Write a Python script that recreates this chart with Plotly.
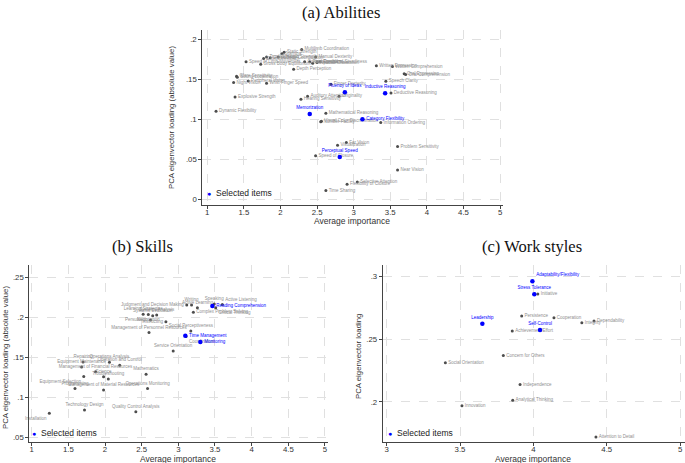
import plotly.graph_objects as go

# ---- data (x = average importance, y = |PCA loading|) ----
ability_names = [
    "Multilimb Coordination", "Static Strength", "Stamina", "Trunk Strength", "Dynamic Strength",
    "Extent Flexibility", "Gross Body Coordination", "Speed of Limb Movement", "Gross Body Equilibrium",
    "Manual Dexterity", "Control Precision", "Rate Control", "Reaction Time", "Response Orientation",
    "Arm-Hand Steadiness", "Depth Perception", "Written Expression", "Written Comprehension",
    "Oral Expression", "Oral Comprehension", "Glare Sensitivity", "Sound Localization", "Night Vision",
    "Peripheral Vision", "Wrist-Finger Speed", "Speech Clarity", "Finger Dexterity", "Fluency of Ideas",
    "Inductive Reasoning", "Deductive Reasoning", "Originality", "Auditory Attention",
    "Hearing Sensitivity", "Explosive Strength", "Dynamic Flexibility", "Memorization",
    "Mathematical Reasoning", "Number Facility", "Visual Color Discrimination", "Category Flexibility",
    "Information Ordering", "Far Vision", "Visualization", "Problem Sensitivity", "Perceptual Speed",
    "Speed of Closure", "Near Vision", "Selective Attention", "Flexibility of Closure", "Time Sharing",
]
ability_x = [
    2.29, 2.05, 2.02, 1.81, 1.97, 1.77, 1.86, 1.53, 1.73, 2.48, 2.33, 2.40, 2.50, 2.44, 2.54, 2.18,
    3.31, 3.53, 3.69, 3.71, 1.40, 1.41, 1.36, 1.56, 1.81, 3.44, 2.69, 2.88, 3.43, 3.51, 2.80, 2.37,
    2.28, 1.38, 1.12, 2.40, 2.62, 2.55, 2.56, 3.12, 3.37, 2.90, 2.78, 3.60, 2.81, 2.48, 3.60, 3.05,
    2.91, 2.62,
]
ability_y = [
    0.1875, 0.184, 0.182, 0.178, 0.178, 0.176, 0.177, 0.172, 0.169, 0.178, 0.172, 0.172, 0.171,
    0.170, 0.172, 0.1625, 0.167, 0.166, 0.157, 0.156, 0.154, 0.1525, 0.146, 0.148, 0.145, 0.1475,
    0.144, 0.134, 0.1325, 0.133, 0.129, 0.129, 0.125, 0.128, 0.110, 0.1066, 0.1075, 0.097, 0.0975,
    0.100, 0.096, 0.071, 0.0675, 0.066, 0.053, 0.0545, 0.0366, 0.0216, 0.019, 0.011,
]
ability_selected = ["Fluency of Ideas", "Inductive Reasoning", "Memorization",
                    "Category Flexibility", "Perceptual Speed"]

skill_names = [
    "Judgment and Decision Making", "Writing", "Active Learning", "Speaking", "Active Listening",
    "Reading Comprehension", "Critical Thinking", "Complex Problem Solving", "Learning Strategies",
    "Negotiation", "Systems Evaluation", "Systems Analysis", "Persuasion", "Instructing",
    "Management of Personnel Resources", "Social Perceptiveness", "Time Management", "Coordination",
    "Monitoring", "Service Orientation", "Operations Analysis", "Operation and Control", "Repairing",
    "Equipment Maintenance", "Management of Financial Resources", "Science", "Troubleshooting",
    "Equipment Selection", "Mathematics", "Programming", "Management of Material Resources",
    "Operations Monitoring", "Technology Design", "Quality Control Analysis", "Installation",
]
skill_x = [
    3.115, 3.18, 3.26, 3.49, 3.60, 3.464, 3.51, 3.205, 2.52, 2.59, 2.65, 2.705, 2.62, 2.83, 2.60,
    3.17, 3.095, 3.105, 3.30, 2.93, 2.06, 2.20, 1.70, 1.68, 1.87, 1.98, 2.045, 1.71, 2.56, 1.59,
    1.98, 2.58, 1.72, 2.42, 1.24,
]
skill_y = [
    0.2153, 0.2153, 0.212, 0.2166, 0.216, 0.2141, 0.212, 0.2063, 0.204, 0.2035, 0.202, 0.203,
    0.1966, 0.1945, 0.181, 0.183, 0.177, 0.176, 0.169, 0.158, 0.1438, 0.140, 0.1441, 0.1379,
    0.132, 0.1258, 0.1229, 0.126, 0.1288, 0.111, 0.1091, 0.111, 0.0841, 0.082, 0.080,
]
skill_selected = ["Reading Comprehension", "Time Management", "Monitoring"]

style_names = [
    "Adaptability/Flexibility", "Stress Tolerance", "Initiative", "Persistence", "Cooperation",
    "Leadership", "Integrity", "Dependability", "Self-Control", "Achievement/Effort",
    "Concern for Others", "Social Orientation", "Independence", "Analytical Thinking", "Innovation",
    "Attention to Detail",
]
style_x = [3.993, 4.006, 4.03, 3.92, 4.14, 3.652, 4.33, 4.413, 4.045, 3.856, 3.795, 3.40, 3.909,
           3.859, 3.513, 4.426]
style_y = [0.2963, 0.286, 0.2862, 0.2687, 0.2673, 0.2625, 0.2633, 0.2647, 0.2575, 0.2567, 0.237,
           0.2314, 0.2139, 0.2014, 0.1969, 0.172]
style_selected = ["Adaptability/Flexibility", "Stress Tolerance", "Leadership", "Self-Control"]

x_ticks = [1, 1.5, 2, 2.5, 3, 3.5, 4, 4.5, 5]

# label placement (default: right of the marker)
label_pos = {
    "Fluency of Ideas": "top center", "Inductive Reasoning": "top center",
    "Memorization": "top center", "Perceptual Speed": "top center",
    "Judgment and Decision Making": "middle left", "Writing": "top center",
    "Active Learning": "top center", "Speaking": "top center", "Active Listening": "top right",
    "Critical Thinking": "bottom right", "Learning Strategies": "top center",
    "Negotiation": "bottom center", "Systems Evaluation": "top center",
    "Systems Analysis": "top center", "Persuasion": "middle left", "Instructing": "middle left",
    "Management of Personnel Resources": "top center", "Social Perceptiveness": "top center",
    "Coordination": "bottom right", "Service Orientation": "top center",
    "Operations Analysis": "top center", "Operation and Control": "top center",
    "Repairing": "top center", "Equipment Maintenance": "top center",
    "Management of Financial Resources": "top center", "Science": "top center",
    "Troubleshooting": "top center", "Equipment Selection": "bottom left",
    "Mathematics": "top center", "Programming": "top center",
    "Management of Material Resources": "top center", "Operations Monitoring": "top center",
    "Technology Design": "top center", "Quality Control Analysis": "top center",
    "Installation": "bottom left",
    "Adaptability/Flexibility": "top right", "Stress Tolerance": "top center",
    "Leadership": "top center", "Self-Control": "top center",
}

FONT = "Liberation Sans, Arial, sans-serif"
GREY_DOT = "#4d4d4d"
GREY_TXT = "#8f8f8f"
BLUE = "#0000ff"
W, H = 685, 463

fig = go.Figure()


def add_panel(names, xs, ys, selected, xa, ya):
    """Add the grey and the highlighted scatter traces of one panel."""
    for is_sel in (False, True):
        idx = [i for i, n in enumerate(names) if (n in selected) == is_sel]
        fig.add_trace(go.Scatter(
            x=[xs[i] for i in idx], y=[ys[i] for i in idx],
            text=[names[i] for i in idx],
            textposition=[label_pos.get(names[i], "middle right") for i in idx],
            mode="markers+text",
            marker={"size": 4.5 if is_sel else 3, "color": BLUE if is_sel else GREY_DOT},
            textfont={"size": 4.5, "color": BLUE if is_sel else GREY_TXT, "family": FONT},
            cliponaxis=False, xaxis=xa, yaxis=ya, showlegend=False, hoverinfo="text"
        ))


add_panel(ability_names, ability_x, ability_y, ability_selected, "x", "y")
add_panel(skill_names, skill_x, skill_y, skill_selected, "x2", "y2")
add_panel(style_names, style_x, style_y, style_selected, "x3", "y3")

axis_common = dict(
    showline=True, linecolor="#444", linewidth=1, ticks="outside", ticklen=3, tickcolor="#444",
    showgrid=True, gridcolor="#e0e0e0", griddash="dash", gridwidth=0.8, zeroline=False,
    automargin=False, tickfont={"size": 7.8, "color": "#333", "family": FONT},
)


def x_axis(domain, rng, anchor):
    return dict(axis_common, domain=domain, range=rng, anchor=anchor, tickvals=x_ticks,
                ticktext=[f"{t:g}" for t in x_ticks], ticklabelstandoff=-3)


def y_axis(domain, rng, anchor, vals, labels):
    return dict(axis_common, domain=domain, range=rng, anchor=anchor, tickvals=vals, ticktext=labels)


fig.update_layout(
    width=W, height=H, margin={"l": 0, "r": 0, "t": 0, "b": 0},
    paper_bgcolor="white", plot_bgcolor="white", showlegend=False,
    font={"family": FONT},
    xaxis=x_axis([0.2953, 0.7343], [0.932, 5.04], "y"),
    yaxis=y_axis([0.5572, 0.935], [-0.0071, 0.2116], "x", [0, 0.05, 0.1, 0.15, 0.2],
                 ["0", ".05", ".1", ".15", ".2"]),
    xaxis2=x_axis([0.0428, 0.4793], [0.967, 5.046], "y2"),
    yaxis2=y_axis([0.046, 0.4276], [0.0445, 0.2654], "x2", [0.05, 0.1, 0.15, 0.2, 0.25],
                  [".05", ".1", ".15", ".2", ".25"]),
    xaxis3=x_axis([0.5587, 1.0], [2.973, 5.033], "y3"),
    yaxis3=y_axis([0.046, 0.4276], [0.1683, 0.3093], "x3", [0.2, 0.25, 0.3],
                  [".2", ".25", ".3"]),
)


def note(text, px, py, font, angle=0, xanchor="center"):
    """Place a text annotation at pixel position (px, py) from the top-left corner."""
    fig.add_annotation(text=text, x=px / W, y=1 - py / H, xref="paper", yref="paper",
                       showarrow=False, xanchor=xanchor, yanchor="middle", textangle=angle,
                       font=font)


# panel titles
title_font = {"size": 16.5, "color": "#111", "family": "Liberation Serif, DejaVu Serif, serif"}
note("(a) Abilities", 341, 12, title_font)
note("(b) Skills", 142, 246, title_font)
note("(c) Work styles", 532, 246, title_font)

# axis titles
axis_title_font = {"size": 8.5, "color": "#333", "family": FONT}
ytitle_font = {"size": 7.8, "color": "#333", "family": FONT}
note("Average importance", 352, 221, axis_title_font)
note("Average importance", 178, 459, axis_title_font)
note("Average importance", 533, 459, axis_title_font)
note("PCA eigenvector loading (absolute value)", 172, 118, ytitle_font, angle=-90)
note("PCA eigenvector loading (absolute value)", 5, 358, ytitle_font, angle=-90)
note("PCA eigenvector loading", 358, 357, ytitle_font, angle=-90)

# "Selected items" keys inside each panel
key = f"<span style='color:{BLUE};font-size:7px'>●</span>  Selected items"
key_font = {"size": 8.5, "color": "#222", "family": FONT}
note(key, 205, 193, key_font, xanchor="left")
note(key, 30, 433, key_font, xanchor="left")
note(key, 386, 433, key_font, xanchor="left")

# the page body has a default margin; drop it so the figure fills the window exactly
fig.write_html("out.html", config={"displayModeBar": False},
               post_script="document.body.style.margin = '0';")
